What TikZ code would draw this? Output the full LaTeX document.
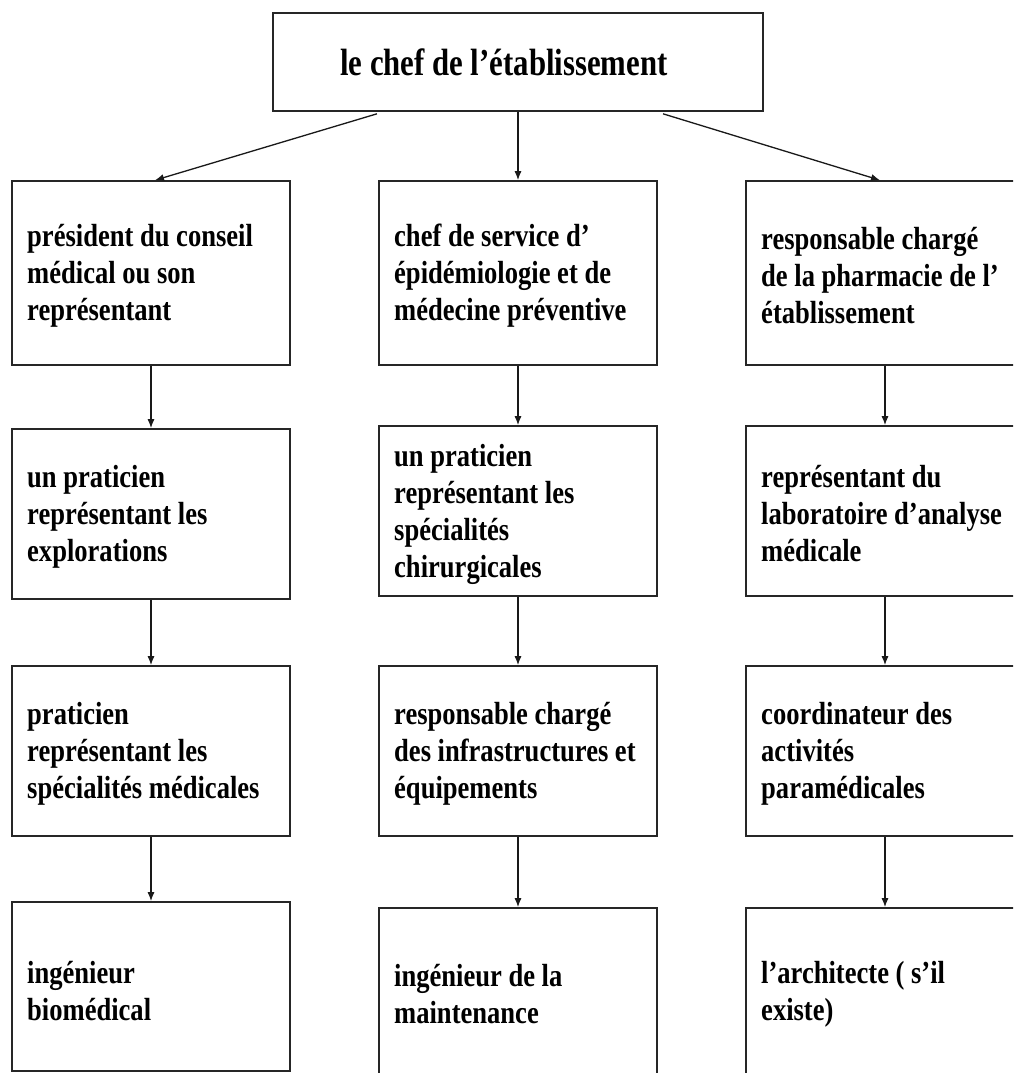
\documentclass[tikz,border=0pt]{standalone}
\usepackage{fontspec}
\newfontfamily\boxfont{Liberation Serif}[FakeStretch=0.83]
\newfontfamily\titlefont{Liberation Serif}[FakeStretch=0.81]
\usetikzlibrary{arrows.meta,calc}
\begin{document}
\begin{tikzpicture}[x=1pt,y=-1pt,
  box/.style={draw=black!85, line width=1.6pt, rectangle, inner sep=0pt, minimum width=278pt},
  txt/.style={anchor=west, align=left, inner sep=0pt, font=\boxfont\bfseries\fontsize{32}{37}\selectfont},
  ttl/.style={anchor=west, align=left, inner sep=0pt, font=\titlefont\bfseries\fontsize{38}{44}\selectfont},
  arr/.style={line width=1.3pt, draw=black!90, -{Latex[length=9pt,width=7pt]}}]
\useasboundingbox (0,0) rectangle (1013,1073);
\clip (0,0) rectangle (1013,1073);
\fill[white] (0,0) rectangle (1013,1073);

% top
\node[box, minimum width=490pt, minimum height=98pt] (top) at (518,62) {};
\node[ttl] (topt) at (340,62) {le chef de l’établissement};

% row 1
\node[box, minimum height=184pt] (L1) at (151,273) {};
\node[box, minimum height=184pt] (M1) at (518,273) {};
\node[box, minimum height=184pt] (R1) at (885,273) {};
\node[txt] (L1t) at (27,276) {président du conseil\\médical ou son\\représentant};
\node[txt] (M1t) at (394,276) {chef de service d’\\épidémiologie et de\\médecine préventive};
\node[txt] (R1t) at (761,276) {responsable chargé\\de la pharmacie de l’\\établissement};

% row 2
\node[box, minimum height=170pt] (L2) at (151,514) {};
\node[box, minimum height=170pt] (M2) at (518,511) {};
\node[box, minimum height=170pt] (R2) at (885,511) {};
\node[txt] (L2t) at (27,517) {un praticien\\représentant les\\explorations};
\node[txt] (M2t) at (394,514) {un praticien\\représentant les\\spécialités\\chirurgicales};
\node[txt] (R2t) at (761,514) {représentant du\\laboratoire d’analyse\\médicale};

% row 3
\node[box, minimum height=170pt] (L3) at (151,751) {};
\node[box, minimum height=170pt] (M3) at (518,751) {};
\node[box, minimum height=170pt] (R3) at (885,751) {};
\node[txt] (L3t) at (27,754) {praticien\\représentant les\\spécialités médicales};
\node[txt] (M3t) at (394,754) {responsable chargé\\des infrastructures et\\équipements};
\node[txt] (R3t) at (761,754) {coordinateur des\\activités\\paramédicales};

% row 4
\node[box, minimum height=169pt] (L4) at (151,986.5) {};
\node[box, minimum height=172pt] (M4) at (518,994) {};
\node[box, minimum height=172pt] (R4) at (885,994) {};
\node[txt] (L4t) at (27,991) {ingénieur\\biomédical};
\node[txt] (M4t) at (394,994) {ingénieur de la\\maintenance};
\node[txt] (R4t) at (761,994) {l’architecte ( s’il\\existe)};

% connectors
\coordinate (tl) at ([xshift=-141pt,yshift=-2pt]top.south);
\coordinate (tr) at ([xshift=145pt,yshift=-2pt]top.south);
\draw[arr] (tl) -- ([xshift=4pt]L1.north);
\draw[arr] (top.south) -- (M1.north);
\draw[arr] (tr) -- ([xshift=-5pt]R1.north);

\draw[arr] (L1.south) -- (L2.north);
\draw[arr] (L2.south) -- (L3.north);
\draw[arr] (L3.south) -- (L4.north);
\draw[arr] (M1.south) -- (M2.north);
\draw[arr] (M2.south) -- (M3.north);
\draw[arr] (M3.south) -- (M4.north);
\draw[arr] (R1.south) -- (R2.north);
\draw[arr] (R2.south) -- (R3.north);
\draw[arr] (R3.south) -- (R4.north);
\end{tikzpicture}
\end{document}
